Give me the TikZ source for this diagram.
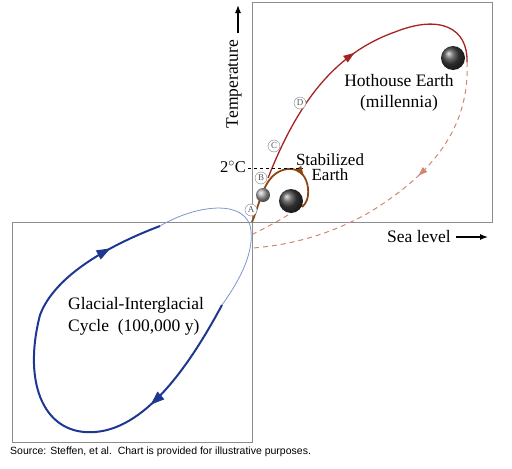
\documentclass[tikz,border=0pt]{standalone}
\usepackage{fontspec}
\setmainfont{Liberation Serif}
\newfontfamily\notefont{Liberation Sans}
\usetikzlibrary{arrows.meta,decorations.markings}
\definecolor{hotred}{RGB}{165,35,35}
\definecolor{stabbrown}{RGB}{140,70,20}
\definecolor{backred}{RGB}{205,135,115}
\definecolor{glacblue}{RGB}{30,55,145}
\definecolor{glacthin}{RGB}{125,150,205}
\tikzset{
  panel/.style={draw=black!45, line width=0.9pt},
  hotpath/.style={draw=hotred, line width=1.3pt},
  stablepath/.style={draw=stabbrown, line width=1.8pt},
  backpath/.style={draw=backred, line width=1pt, dash pattern=on 5pt off 4pt},
  glacthick/.style={draw=glacblue, line width=2pt},
  glacthinline/.style={draw=glacthin, line width=0.8pt},
  tipat/.style 2 args={postaction={decorate, decoration={markings, mark=at position #1 with {\arrow{Triangle[length=#2,width=0.7*#2]}}}}},
  letter/.style={draw=black!50, fill=white, circle, inner sep=0pt, minimum size=12pt, text=black!65, font=\fontsize{9}{10}\selectfont},
  bigball/.style={circle, shade, ball color=black!75, minimum size=24pt, inner sep=0pt},
  smallball/.style={circle, shade, ball color=black!35, minimum size=14pt, inner sep=0pt},
  chartlabel/.style={font=\fontsize{17.5}{21}\selectfont, inner sep=0pt, align=center},
  axisarrow/.style={-{Latex[length=8pt,width=6pt]}, line width=1.1pt}
}
\begin{document}
\begin{tikzpicture}[x=1pt, y=-1pt]
  \useasboundingbox (0,0) rectangle (512,469);
  % panels
  \draw[panel] (252,2) rectangle (492,222);
  \draw[panel] (12,222) rectangle (252,442);
  % glacial-interglacial loop
  \draw[glacthinline] (160,226) .. controls (192,207) and (240,198) .. (250,225)
    .. controls (256,250) and (240,280) .. (222,305);
  \draw[glacthick, tipat={0.25}{14pt}, tipat={0.89}{14pt}] (222,305) .. controls (195,355) and (150,428) .. (95,432)
    .. controls (45,436) and (22,385) .. (40,315)
    .. controls (55,275) and (110,245) .. (160,226);
  % return paths
  \draw[backpath, tipat={0.41}{9pt}] (467,62) .. controls (470,130) and (430,175) .. (370,212)
    .. controls (330,235) and (290,245) .. (253,248);
  \draw[backpath] (303,205) .. controls (285,218) and (265,228) .. (253,234);
  % hothouse path
  \draw[hotpath, tipat={0.52}{11pt}] (268,178) .. controls (295,110) and (330,55) .. (395,32)
    .. controls (440,14) and (468,28) .. (467,62);
  % stabilized path
  \draw[stablepath, tipat={0.72}{10pt}] (252,222) .. controls (258,208) and (262,188) .. (271,178)
    .. controls (282,165) and (305,164) .. (308,188)
    .. controls (309,198) and (306,204) .. (302,207);
  % 2 degree line
  \draw[dashed, line width=0.7pt] (248,168) -- (303,168);
  \node[font=\fontsize{16.5}{18}\selectfont, inner sep=0pt] (twodeg) at (233,167) {2$^{\circ}$C};
  % balls
  \node[smallball] (smallearth) at (263,195) {};
  \node[bigball] (stabearth) at (291,201) {};
  \node[bigball] (hotearth) at (453,58) {};
  % stage letters
  \node[letter] (stageA) at (251,210) {A};
  \node[letter] (stageB) at (261,178) {B};
  \node[letter] (stageC) at (274,146) {C};
  \node[letter] (stageD) at (300,103) {D};
  % labels
  \node[chartlabel] (hotlabel) at (399,93) {Hothouse Earth\\(millennia)};
  \node[chartlabel, font=\fontsize{17}{15.5}\selectfont] (stablabel) at (330,167) {Stabilized\\Earth};
  \node[chartlabel, font=\fontsize{17.5}{22}\selectfont, align=left, anchor=west] (glaclabel) at (68,316) {Glacial-Interglacial\\Cycle\ \ (100,000 y)};
  % axes
  \node[chartlabel, rotate=90] (templabel) at (234,84) {Temperature};
  \coordinate (tempbase) at (238,33);
  \coordinate (temptip) at (238,5);
  \draw[axisarrow] (tempbase) -- (temptip);
  \node[chartlabel, anchor=east] (sealabel) at (451,237) {Sea level};
  \coordinate (seabase) at (456,237);
  \coordinate (seatip) at (488,237);
  \draw[axisarrow] (seabase) -- (seatip);
  % source note
  \node[font=\notefont\fontsize{10.5}{12}\selectfont, anchor=west, inner sep=0pt] (source) at (10,452)
    {Source: Steffen, et al.\ \ Chart is provided for illustrative purposes.};
\end{tikzpicture}
\end{document}
